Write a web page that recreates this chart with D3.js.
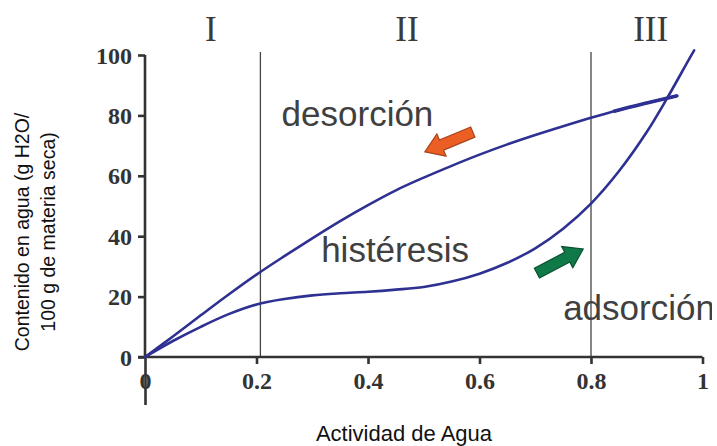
<!DOCTYPE html>
<html>
<head>
<meta charset="utf-8">
<script src="https://cdn.jsdelivr.net/npm/d3@7"></script>
<style>
  html, body { margin: 0; padding: 0; background: #fff; }
  svg { display: block; }
</style>
</head>
<body>
<svg id="chart" width="717" height="446"></svg>
<script>
// ---- data ----
const xTicks = [0, 0.2, 0.4, 0.6, 0.8, 1];
const xTickLabels = ["0", "0.2", "0.4", "0.6", "0.8", "1"];
const yTicks = [0, 20, 40, 60, 80, 100];
const yTickLabels = ["0", "20", "40", "60", "80", "100"];

const desorcionX = [0, 0.05, 0.1, 0.15, 0.2, 0.25, 0.3, 0.35, 0.4, 0.45, 0.5, 0.55, 0.6, 0.65, 0.7, 0.75, 0.8, 0.85, 0.9, 0.955];
const desorcionY = [0, 6.8, 13.8, 20.7, 27.3, 33.4, 39.3, 45, 50.3, 55.2, 59.4, 63.3, 67, 70.4, 73.5, 76.4, 79.2, 81.8, 84.1, 86.5];

const adsorcionX = [0, 0.05, 0.1, 0.15, 0.2, 0.25, 0.3, 0.35, 0.4, 0.45, 0.5, 0.55, 0.6, 0.65, 0.7, 0.75, 0.8, 0.85, 0.9, 0.935, 0.975, 0.985];
const adsorcionY = [0, 5.3, 10, 14.2, 17.4, 19.2, 20.4, 21.1, 21.6, 22.3, 23.2, 25, 27.6, 31.2, 36, 42.5, 50.8, 61.5, 74.5, 85.2, 98.3, 101.5];

const zoneBounds = [0.207, 0.8];
const zoneLabels = ["I", "II", "III"];
const zoneLabelX = [0.118, 0.47, 0.907];

const curveLabels = ["desorción", "histéresis", "adsorción"];
const curveLabelX = [0.245, 0.316, 0.75];
const curveLabelY = [76.5, 31.5, 12.2];

// arrows: [tailX, tailY, tipX, tipY]
const arrowOrange = [0.588, 74.5, 0.502, 67.9];
const arrowGreen = [0.703, 27.8, 0.786, 35.8];

const xTitle = "Actividad de Agua";
const yTitleLines = ["Contenido en agua (g H2O/", "100 g de materia seca)"];

// ---- scales ----
const svg = d3.select("#chart");
const x = d3.scaleLinear().domain([0, 1]).range([145, 702.5]);
const y = d3.scaleLinear().domain([0, 100]).range([357, 55]);

const axisColor = "#333";
const curveColor = "#2e3192";

svg.append("defs").append("clipPath").attr("id", "labelClip")
  .append("rect").attr("x", 0).attr("y", 0).attr("width", 712).attr("height", 446);

// zone vertical lines
svg.append("g").selectAll("line").data(zoneBounds).join("line")
  .attr("x1", d => x(d)).attr("x2", d => x(d))
  .attr("y1", y(101)).attr("y2", y(0))
  .attr("stroke", "#444").attr("stroke-width", 1.3);

// zone labels
svg.append("g").selectAll("text").data(zoneLabels).join("text")
  .attr("x", (d, i) => x(zoneLabelX[i]))
  .attr("y", 41)
  .attr("text-anchor", "middle")
  .attr("font-family", "'Liberation Serif', 'Times New Roman', serif")
  .attr("font-size", 35)
  .attr("fill", "#3a3a3a")
  .text(d => d);

// x axis
const xAxis = d3.axisBottom(x).tickValues(xTicks)
  .tickFormat((d, i) => xTickLabels[i]).tickSize(7).tickSizeOuter(0);
const gx = svg.append("g").attr("transform", `translate(0,${y(0)})`).call(xAxis);
gx.select(".domain").attr("stroke", axisColor).attr("stroke-width", 2.6)
  .attr("d", `M${x(0) - 7},0H${x(1)}`);
gx.selectAll(".tick line").attr("stroke", axisColor).attr("stroke-width", 2.6)
  .attr("y2", d => d === 0 ? 48 : 7);
gx.selectAll(".tick text")
  .attr("y", 32).attr("dy", 0)
  .attr("font-family", "'Liberation Serif', 'Times New Roman', serif")
  .attr("font-weight", "bold").attr("font-size", 24).attr("fill", "#333");

// y axis
const yAxis = d3.axisLeft(y).tickValues(yTicks)
  .tickFormat((d, i) => yTickLabels[i]).tickSize(7).tickSizeOuter(0);
const gy = svg.append("g").attr("transform", `translate(${x(0)},0)`).call(yAxis);
gy.select(".domain").attr("stroke", axisColor).attr("stroke-width", 2.6)
  .attr("d", `M0,${y(100)}V${y(0)}`);
gy.selectAll(".tick line").attr("stroke", axisColor).attr("stroke-width", 2.6);
gy.selectAll(".tick text")
  .attr("x", -13).attr("dy", "0.34em")
  .attr("font-family", "'Liberation Serif', 'Times New Roman', serif")
  .attr("font-weight", "bold").attr("font-size", 24).attr("fill", "#333");

// curves
const line = d3.line().x(d => x(d[0])).y(d => y(d[1])).curve(d3.curveCatmullRom.alpha(0.5));
const desData = desorcionX.map((v, i) => [v, desorcionY[i]]);
const adsData = adsorcionX.map((v, i) => [v, adsorcionY[i]]);
const desPath = svg.append("path").attr("d", line(desData)).attr("fill", "none")
  .attr("stroke", curveColor).attr("stroke-width", 2.6).attr("stroke-linecap", "round");
svg.append("path").attr("d", line(adsData)).attr("fill", "none")
  .attr("stroke", curveColor).attr("stroke-width", 2.6).attr("stroke-linecap", "round");

// thicker end segment of desorption (from x = 0.84 onward)
{
  const node = desPath.node();
  const L = node.getTotalLength();
  const target = x(0.84);
  let lo = 0, hi = L;
  for (let k = 0; k < 40; k++) {
    const mid = (lo + hi) / 2;
    if (node.getPointAtLength(mid).x < target) lo = mid; else hi = mid;
  }
  svg.append("path").attr("d", line(desData)).attr("fill", "none")
    .attr("stroke", curveColor).attr("stroke-width", 3.6)
    .attr("stroke-dasharray", `0 ${lo} ${L - lo + 5}`);
}

// curve labels
svg.append("g").attr("clip-path", "url(#labelClip)")
  .selectAll("text").data(curveLabels).join("text")
  .attr("x", (d, i) => x(curveLabelX[i]))
  .attr("y", (d, i) => y(curveLabelY[i]))
  .attr("font-family", "'Liberation Sans', Arial, sans-serif")
  .attr("font-size", 35)
  .attr("fill", "#404040")
  .text(d => d);

// block arrows
function blockArrow(a, fill, stroke) {
  const x0 = x(a[0]), y0 = y(a[1]), x1 = x(a[2]), y1 = y(a[3]);
  const dx = x1 - x0, dy = y1 - y0, L = Math.hypot(dx, dy);
  const ux = dx / L, uy = dy / L, nx = -uy, ny = ux;
  const sw = 5.5, hw = 12, hl = 18;
  const bx = x1 - ux * hl, by = y1 - uy * hl;
  const pts = [
    [x0 + nx * sw, y0 + ny * sw],
    [bx + nx * sw, by + ny * sw],
    [bx + nx * hw, by + ny * hw],
    [x1, y1],
    [bx - nx * hw, by - ny * hw],
    [bx - nx * sw, by - ny * sw],
    [x0 - nx * sw, y0 - ny * sw]
  ];
  svg.append("polygon").attr("points", pts.map(p => p.join(",")).join(" "))
    .attr("fill", fill).attr("stroke", stroke).attr("stroke-width", 1.2)
    .attr("stroke-linejoin", "miter");
}
blockArrow(arrowOrange, "#ec5f24", "#a8421c");
blockArrow(arrowGreen, "#0f7a48", "#0a4f30");

// axis titles
svg.append("text").attr("x", 404).attr("y", 441)
  .attr("text-anchor", "middle")
  .attr("font-family", "'Liberation Sans', Arial, sans-serif")
  .attr("font-size", 22).attr("fill", "#111").text(xTitle);

const yt = svg.append("text")
  .attr("transform", "translate(0,232) rotate(-90)")
  .attr("text-anchor", "middle")
  .attr("font-family", "'Liberation Sans', Arial, sans-serif")
  .attr("font-size", 19.5).attr("fill", "#111");
yt.selectAll("tspan").data(yTitleLines).join("tspan")
  .attr("x", 0).attr("y", (d, i) => 29 + i * 26)
  .text(d => d);
</script>
</body>
</html>
